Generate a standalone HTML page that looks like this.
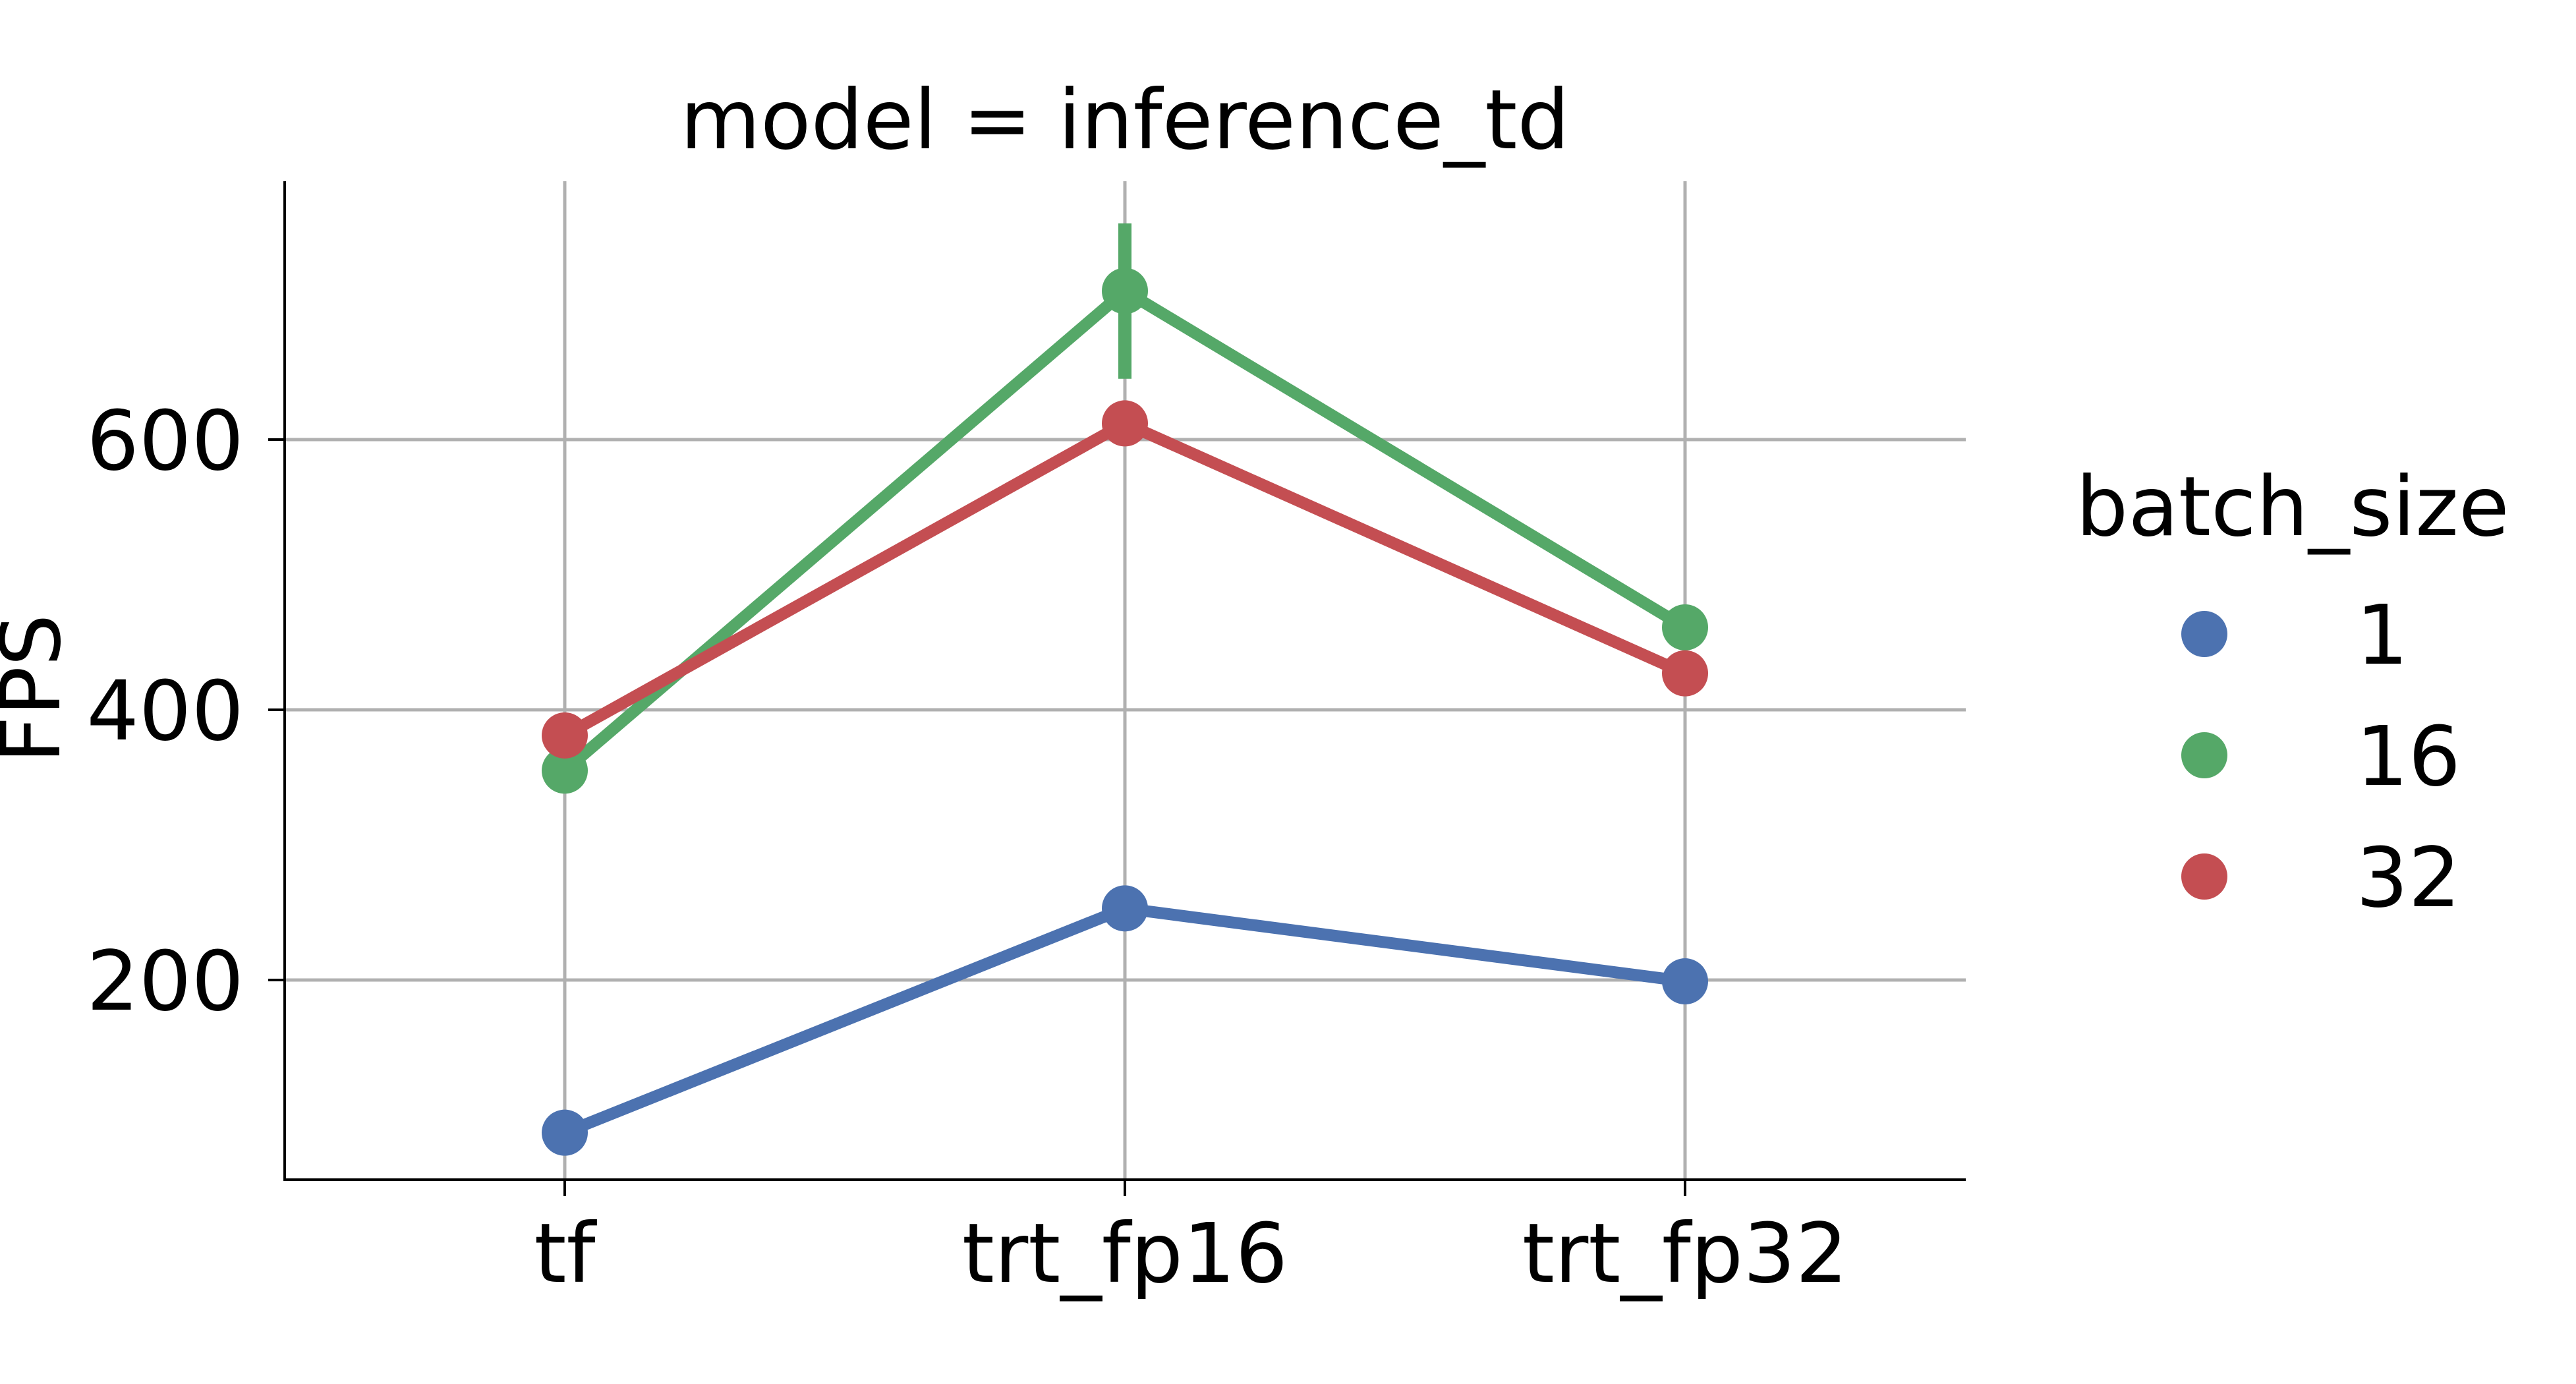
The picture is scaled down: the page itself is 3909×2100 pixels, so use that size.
<!DOCTYPE html>
<html><head><meta charset="utf-8"><style>
html,body{margin:0;padding:0;background:#fff}
svg{display:block;font-family:"DejaVu Sans","Liberation Sans",sans-serif}
</style></head><body>
<svg id="chart" width="3909" height="2100" viewBox="0 0 3909 2100" xmlns="http://www.w3.org/2000/svg">
<rect width="3909" height="2100" fill="#fff"/>
<g id="grid"></g>
<g id="series"></g>
<g id="axes"></g>
<text x="1707" y="225" font-size="125" text-anchor="middle" fill="#000">model = inference_td</text>
<text transform="translate(90,1045) rotate(-90)" font-size="125" text-anchor="middle" fill="#000">FPS</text>
<g id="legend"></g>
</svg>
<script>
const categories = ["tf","trt_fp16","trt_fp32"];
const batchSizes = ["1","16","32"];
const colors = ["#4c72b0","#55a868","#c44e52"];
const seriesB1 = [87,253,199];
const seriesB16 = [355,710,461];
const seriesB32 = [381,612,427];
const errLow16 = [null,645,null];
const errHigh16 = [null,760,null];
const yTicks = [200,400,600];

const NS="http://www.w3.org/2000/svg";
const L=432,R=2983,T=275,B=1790;
const xPos=i=>857+i*850;
const yPos=v=>1487-(v-200)*(410/200);
function mk(tag,attrs,parent){const e=document.createElementNS(NS,tag);for(const k in attrs)e.setAttribute(k,attrs[k]);parent.appendChild(e);return e;}
const grid=document.getElementById('grid'),axes=document.getElementById('axes'),ser=document.getElementById('series'),leg=document.getElementById('legend');

categories.forEach((c,i)=>{
  const g=mk('line',{x1:xPos(i),x2:xPos(i),y1:T,y2:B,stroke:'#b0b0b0','stroke-width':5},grid);
  
  
  const t=mk('line',{x1:xPos(i),x2:xPos(i),y1:B,y2:B+25,stroke:'#000','stroke-width':4},axes);
  
  
  const tx=mk('text',{x:xPos(i),y:1945,'font-size':125,'text-anchor':'middle',fill:'#000'},axes);
  tx.textContent=c;
  
  
});
yTicks.forEach(v=>{
  const g=mk('line',{x1:L,x2:R,y1:yPos(v),y2:yPos(v),stroke:'#b0b0b0','stroke-width':5},grid);
  
  
  const t=mk('line',{x1:L-25,x2:L,y1:yPos(v),y2:yPos(v),stroke:'#000','stroke-width':4},axes);
  
  
  const tx=mk('text',{x:370,y:yPos(v)+45,'font-size':125,'text-anchor':'end',fill:'#000'},axes);
  tx.textContent=v;
  
  
});
const ax1=mk('line',{x1:L,x2:L,y1:T,y2:B+2,stroke:'#000','stroke-width':4},axes);


const ax2=mk('line',{x1:L-2,x2:R,y1:B,y2:B,stroke:'#000','stroke-width':4},axes);



const allSeries=[seriesB1,seriesB16,seriesB32];
allSeries.forEach((s,k)=>{
  const pl=mk('polyline',{points:s.map((v,i)=>xPos(i)+','+yPos(v)).join(' '),fill:'none',stroke:colors[k],'stroke-width':18,'stroke-linejoin':'round'},ser);
  
  
  if(k===1){
    errLow16.forEach((lo,i)=>{ if(lo===null)return;
      const e=mk('line',{x1:xPos(i),x2:xPos(i),y1:yPos(lo),y2:yPos(errHigh16[i]),stroke:colors[k],'stroke-width':20},ser);
      
      
    });
  }
  s.forEach((v,i)=>{
    const c=mk('circle',{cx:xPos(i),cy:yPos(v),r:35,fill:colors[k]},ser);
    
    
  });
});

const lt=mk('text',{x:3150,y:812,'font-size':125,fill:'#000'},leg);
lt.textContent='batch_size';


batchSizes.forEach((b,k)=>{
  const y=962+k*184;
  const c=mk('circle',{cx:3345,cy:y,r:35,fill:colors[k]},leg);
  
  
  const t=mk('text',{x:3575,y:y+45,'font-size':125,'text-anchor':'start',fill:'#000'},leg);
  t.textContent=b;
  
  
});
</script>
</body></html>
